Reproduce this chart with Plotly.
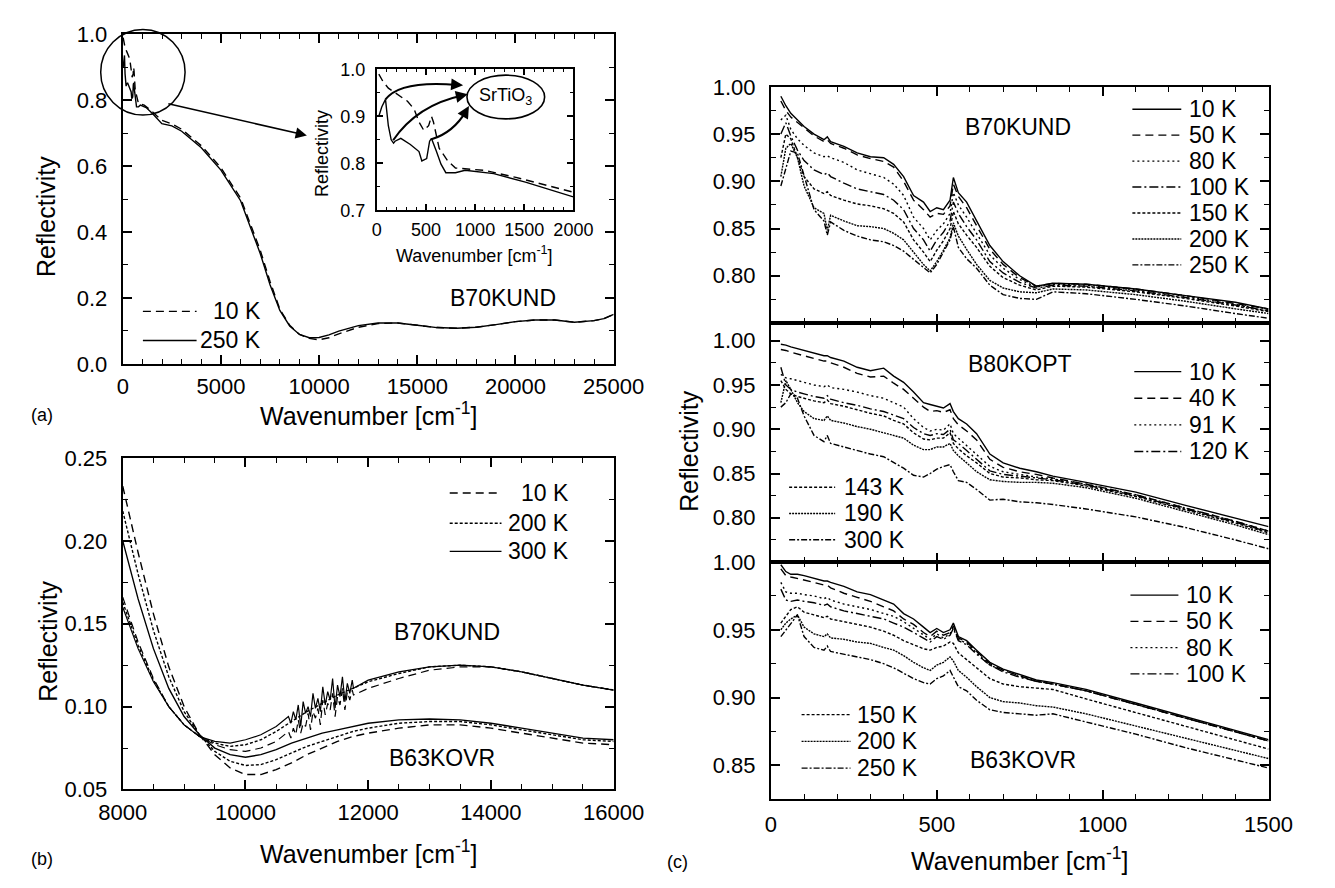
import plotly.graph_objects as go

W, H = 1335, 888
FONT = "Liberation Sans, Arial, Helvetica, sans-serif"


def px(x):
    return x / W


def py(y):
    return 1 - y / H


# ---------------- Panel (a): B70KUND, broad range (also used by the inset) ----------------
a_low_x_10K = [20, 60, 117, 215, 312, 380, 429, 478, 527, 556, 576, 634, 722, 800, 1093, 1415, 1990]
a_low_R_10K = [0.990, 0.975, 0.960, 0.946, 0.932, 0.915, 0.888, 0.870, 0.880, 0.900, 0.888, 0.832,
               0.805, 0.790, 0.785, 0.770, 0.739]
a_low_x_250K = [20, 50, 88, 117, 146, 170, 185, 244, 341, 429, 458, 507, 537, 556, 605, 653, 702,
                800, 898, 1190, 1512, 1990]
a_low_R_250K = [0.900, 0.920, 0.936, 0.880, 0.850, 0.843, 0.847, 0.853, 0.840, 0.825, 0.805, 0.810,
                0.847, 0.853, 0.826, 0.798, 0.780, 0.780, 0.785, 0.778, 0.760, 0.729]
a_high_x = [2500, 3000, 4000, 5000, 6000, 7000, 7500, 8000, 8500, 9000, 9500, 10000, 10500, 11000,
            11500, 12000, 13000, 14000, 15000, 16000, 17000, 18000, 19000, 20000, 21000, 22000,
            23000, 24000, 24500, 25000]
a_high_R_10K = [0.728, 0.712, 0.662, 0.595, 0.503, 0.345, 0.250, 0.166, 0.117, 0.089, 0.077, 0.073,
                0.079, 0.091, 0.102, 0.111, 0.122, 0.124, 0.117, 0.110, 0.108, 0.111, 0.119, 0.128,
                0.133, 0.133, 0.126, 0.131, 0.137, 0.150]
a_high_R_250K = [0.722, 0.706, 0.656, 0.588, 0.495, 0.335, 0.240, 0.162, 0.115, 0.089, 0.079, 0.080,
                 0.088, 0.099, 0.108, 0.116, 0.124, 0.124, 0.117, 0.110, 0.108, 0.111, 0.119, 0.128,
                 0.133, 0.133, 0.126, 0.131, 0.137, 0.150]

# ---------------- Panel (b): 8000-16000 cm-1 ----------------
b_x = [8000, 8250, 8500, 8750, 9000, 9250, 9500, 9750, 10000, 10250, 10500, 10750, 11000, 11250,
       11500, 11750, 12000, 12500, 13000, 13500, 14000, 14500, 15000, 15500, 16000]
b70_10K = [0.166, 0.139, 0.117, 0.100, 0.089, 0.082, 0.077, 0.074, 0.073, 0.075, 0.079, 0.085, 0.091,
           0.097, 0.102, 0.107, 0.111, 0.117, 0.122, 0.124, 0.124, 0.121, 0.117, 0.113, 0.110]
b70_200K = [0.163, 0.137, 0.116, 0.100, 0.089, 0.082, 0.078, 0.076, 0.077, 0.080, 0.085, 0.091, 0.097,
            0.102, 0.107, 0.111, 0.115, 0.120, 0.124, 0.125, 0.124, 0.121, 0.117, 0.113, 0.110]
b70_300K = [0.160, 0.135, 0.115, 0.100, 0.089, 0.082, 0.079, 0.078, 0.080, 0.083, 0.088, 0.094, 0.099,
            0.104, 0.108, 0.112, 0.116, 0.121, 0.124, 0.125, 0.124, 0.121, 0.117, 0.113, 0.110]
b63_10K = [0.233, 0.193, 0.156, 0.124, 0.100, 0.083, 0.071, 0.063, 0.059, 0.059, 0.062, 0.066, 0.071,
           0.075, 0.079, 0.082, 0.084, 0.087, 0.089, 0.089, 0.087, 0.084, 0.081, 0.078, 0.077]
b63_200K = [0.218, 0.180, 0.146, 0.118, 0.097, 0.083, 0.073, 0.067, 0.0645, 0.065, 0.068, 0.072, 0.076,
            0.079, 0.082, 0.085, 0.087, 0.090, 0.091, 0.091, 0.089, 0.086, 0.083, 0.080, 0.079]
b63_300K = [0.200, 0.165, 0.135, 0.111, 0.094, 0.083, 0.075, 0.071, 0.0695, 0.071, 0.074, 0.078, 0.081,
            0.084, 0.086, 0.088, 0.090, 0.092, 0.0925, 0.092, 0.090, 0.087, 0.084, 0.081, 0.080]
# noisy stretch of the B70KUND spectra (detector junction)
b_noise_x = [10700, 10740, 10780, 10820, 10860, 10900, 10940, 10980, 11020, 11060, 11100, 11140,
             11180, 11220, 11260, 11300, 11340, 11380, 11420, 11460, 11500, 11540, 11580, 11620,
             11660, 11700, 11740, 11760]
b70_10K_noise = [0.085, 0.081, 0.087, 0.083, 0.092, 0.084, 0.090, 0.088, 0.096, 0.086, 0.097, 0.093,
                 0.099, 0.089, 0.104, 0.095, 0.102, 0.098, 0.108, 0.094, 0.106, 0.101, 0.111, 0.098,
                 0.109, 0.104, 0.110, 0.107]
b70_300K_noise = [0.094, 0.090, 0.097, 0.092, 0.101, 0.088, 0.103, 0.096, 0.100, 0.094, 0.108, 0.099,
                  0.105, 0.097, 0.112, 0.101, 0.109, 0.104, 0.117, 0.099, 0.113, 0.106, 0.118, 0.103,
                  0.114, 0.108, 0.116, 0.111]

# ---------------- Panel (c): far infrared ----------------
c_x = [30, 45, 60, 80, 100, 130, 160, 170, 180, 220, 260, 300, 340, 370, 400, 430, 460, 480, 500, 520,
       540, 550, 565, 590, 620, 660, 700, 750, 800, 850, 950, 1100, 1250, 1400, 1500]

# B70KUND
c1_10K = [0.990, 0.980, 0.972, 0.965, 0.958, 0.950, 0.944, 0.947, 0.942, 0.937, 0.930, 0.926, 0.925,
          0.918, 0.905, 0.885, 0.878, 0.868, 0.872, 0.870, 0.880, 0.904, 0.888, 0.878, 0.858, 0.832,
          0.815, 0.800, 0.789, 0.792, 0.791, 0.786, 0.779, 0.772, 0.765]
c1_50K = [0.985, 0.975, 0.968, 0.962, 0.956, 0.948, 0.942, 0.944, 0.940, 0.935, 0.928, 0.924, 0.921,
          0.915, 0.900, 0.880, 0.870, 0.862, 0.866, 0.865, 0.874, 0.897, 0.884, 0.872, 0.853, 0.828,
          0.812, 0.798, 0.789, 0.792, 0.791, 0.786, 0.779, 0.771, 0.765]
c1_80K = [0.965, 0.970, 0.955, 0.945, 0.938, 0.930, 0.926, 0.927, 0.925, 0.920, 0.912, 0.908, 0.904,
          0.897, 0.885, 0.862, 0.850, 0.838, 0.848, 0.855, 0.866, 0.888, 0.875, 0.862, 0.845, 0.822,
          0.808, 0.796, 0.788, 0.791, 0.790, 0.785, 0.778, 0.770, 0.764]
c1_100K = [0.950, 0.962, 0.948, 0.933, 0.922, 0.912, 0.907, 0.909, 0.905, 0.898, 0.892, 0.889, 0.886,
           0.880, 0.870, 0.850, 0.838, 0.826, 0.838, 0.846, 0.858, 0.878, 0.866, 0.852, 0.838, 0.815,
           0.803, 0.793, 0.787, 0.790, 0.789, 0.784, 0.777, 0.769, 0.763]
c1_150K = [0.925, 0.950, 0.945, 0.925, 0.905, 0.892, 0.887, 0.889, 0.885, 0.880, 0.876, 0.874, 0.871,
           0.866, 0.857, 0.838, 0.825, 0.815, 0.827, 0.837, 0.850, 0.868, 0.855, 0.843, 0.830, 0.810,
           0.798, 0.790, 0.785, 0.789, 0.788, 0.783, 0.776, 0.768, 0.762]
c1_200K = [0.905, 0.935, 0.940, 0.925, 0.895, 0.872, 0.866, 0.848, 0.864, 0.858, 0.853, 0.852, 0.850,
           0.845, 0.838, 0.825, 0.812, 0.805, 0.815, 0.827, 0.840, 0.856, 0.842, 0.828, 0.812, 0.795,
           0.787, 0.783, 0.782, 0.786, 0.785, 0.780, 0.773, 0.765, 0.760]
c1_250K = [0.895, 0.915, 0.932, 0.930, 0.905, 0.870, 0.858, 0.843, 0.857, 0.848, 0.842, 0.838, 0.836,
           0.832, 0.826, 0.817, 0.808, 0.803, 0.812, 0.825, 0.838, 0.852, 0.830, 0.818, 0.808, 0.790,
           0.780, 0.776, 0.775, 0.783, 0.781, 0.775, 0.768, 0.760, 0.755]

# B80KOPT
c2_10K = [0.996, 0.995, 0.993, 0.991, 0.989, 0.986, 0.983, 0.983, 0.981, 0.977, 0.970, 0.966, 0.969,
          0.960, 0.953, 0.942, 0.930, 0.928, 0.926, 0.924, 0.929, 0.920, 0.912, 0.906, 0.895, 0.872,
          0.862, 0.856, 0.852, 0.847, 0.840, 0.829, 0.814, 0.800, 0.790]
c2_40K = [0.990, 0.989, 0.987, 0.985, 0.983, 0.980, 0.977, 0.977, 0.975, 0.970, 0.963, 0.959, 0.960,
          0.952, 0.945, 0.935, 0.925, 0.920, 0.921, 0.919, 0.922, 0.912, 0.905, 0.898, 0.888, 0.866,
          0.857, 0.852, 0.849, 0.845, 0.838, 0.826, 0.811, 0.796, 0.785]
c2_91K = [0.962, 0.958, 0.957, 0.955, 0.953, 0.950, 0.948, 0.950, 0.947, 0.945, 0.942, 0.938, 0.935,
          0.930, 0.925, 0.912, 0.902, 0.898, 0.900, 0.899, 0.906, 0.895, 0.890, 0.882, 0.872, 0.858,
          0.852, 0.849, 0.846, 0.844, 0.838, 0.826, 0.811, 0.796, 0.785]
c2_120K = [0.970, 0.950, 0.945, 0.942, 0.940, 0.937, 0.935, 0.938, 0.934, 0.930, 0.927, 0.923, 0.920,
           0.916, 0.912, 0.902, 0.895, 0.893, 0.895, 0.894, 0.900, 0.888, 0.884, 0.876, 0.866, 0.853,
           0.849, 0.847, 0.845, 0.843, 0.837, 0.825, 0.810, 0.795, 0.784]
c2_143K = [0.955, 0.945, 0.940, 0.937, 0.935, 0.932, 0.930, 0.933, 0.929, 0.926, 0.922, 0.918, 0.915,
           0.910, 0.906, 0.896, 0.889, 0.888, 0.890, 0.890, 0.896, 0.884, 0.878, 0.870, 0.862, 0.850,
           0.846, 0.845, 0.843, 0.842, 0.836, 0.824, 0.809, 0.794, 0.783]
c2_190K = [0.930, 0.955, 0.945, 0.930, 0.920, 0.912, 0.910, 0.915, 0.910, 0.907, 0.903, 0.900, 0.896,
           0.893, 0.890, 0.882, 0.877, 0.877, 0.880, 0.880, 0.884, 0.876, 0.870, 0.862, 0.852, 0.843,
           0.841, 0.840, 0.840, 0.839, 0.834, 0.822, 0.807, 0.792, 0.781]
c2_300K = [0.925, 0.930, 0.940, 0.935, 0.915, 0.893, 0.886, 0.893, 0.884, 0.880, 0.876, 0.872, 0.869,
           0.862, 0.856, 0.848, 0.846, 0.850, 0.855, 0.858, 0.860, 0.852, 0.842, 0.840, 0.832, 0.820,
           0.821, 0.818, 0.817, 0.815, 0.810, 0.801, 0.789, 0.775, 0.765]

# B63KOVR
c3_10K = [0.998, 0.993, 0.991, 0.991, 0.990, 0.988, 0.986, 0.986, 0.985, 0.982, 0.978, 0.976, 0.972,
          0.969, 0.962, 0.958, 0.952, 0.948, 0.951, 0.948, 0.950, 0.955, 0.945, 0.942, 0.935, 0.926,
          0.921, 0.917, 0.913, 0.911, 0.906, 0.896, 0.886, 0.876, 0.869]
c3_50K = [0.995, 0.990, 0.989, 0.988, 0.987, 0.985, 0.983, 0.983, 0.981, 0.977, 0.974, 0.971, 0.967,
          0.964, 0.958, 0.954, 0.948, 0.945, 0.949, 0.946, 0.948, 0.953, 0.944, 0.941, 0.934, 0.925,
          0.920, 0.916, 0.912, 0.910, 0.905, 0.895, 0.885, 0.875, 0.868]
c3_80K = [0.985, 0.978, 0.977, 0.977, 0.976, 0.975, 0.973, 0.974, 0.972, 0.969, 0.967, 0.965, 0.962,
          0.960, 0.956, 0.951, 0.946, 0.943, 0.947, 0.944, 0.947, 0.952, 0.943, 0.940, 0.933, 0.924,
          0.920, 0.916, 0.912, 0.910, 0.905, 0.895, 0.885, 0.875, 0.868]
c3_100K = [0.980, 0.972, 0.971, 0.972, 0.971, 0.970, 0.968, 0.969, 0.967, 0.964, 0.962, 0.960, 0.958,
           0.955, 0.952, 0.948, 0.944, 0.941, 0.945, 0.943, 0.946, 0.951, 0.942, 0.939, 0.932, 0.924,
           0.919, 0.915, 0.912, 0.910, 0.905, 0.895, 0.885, 0.875, 0.868]
c3_150K = [0.955, 0.960, 0.965, 0.967, 0.963, 0.961, 0.959, 0.960, 0.958, 0.956, 0.954, 0.952, 0.949,
           0.946, 0.942, 0.939, 0.936, 0.935, 0.937, 0.938, 0.941, 0.940, 0.933, 0.928, 0.922, 0.914,
           0.910, 0.908, 0.907, 0.906, 0.899, 0.889, 0.879, 0.869, 0.862]
c3_200K = [0.950, 0.955, 0.958, 0.961, 0.952, 0.947, 0.945, 0.947, 0.944, 0.943, 0.941, 0.940, 0.937,
           0.935, 0.931, 0.926, 0.922, 0.920, 0.924, 0.926, 0.930, 0.927, 0.920, 0.915, 0.908, 0.900,
           0.897, 0.896, 0.894, 0.893, 0.888, 0.879, 0.870, 0.861, 0.855]
c3_250K = [0.945, 0.950, 0.955, 0.961, 0.945, 0.937, 0.935, 0.938, 0.934, 0.932, 0.930, 0.928, 0.925,
           0.922, 0.918, 0.914, 0.911, 0.910, 0.914, 0.916, 0.920, 0.915, 0.908, 0.905, 0.898, 0.891,
           0.889, 0.888, 0.887, 0.888, 0.882, 0.873, 0.863, 0.854, 0.848]

# tick labels
a_xticks = [0, 5000, 10000, 15000, 20000, 25000]
a_xlabels = ["0", "5000", "10000", "15000", "20000", "25000"]
a_yticks = [0.0, 0.2, 0.4, 0.6, 0.8, 1.0]
a_ylabels = ["0.0", "0.2", "0.4", "0.6", "0.8", "1.0"]
ins_xticks = [0, 500, 1000, 1500, 2000]
ins_xlabels = ["0", "500", "1000", "1500", "2000"]
ins_yticks = [0.7, 0.8, 0.9, 1.0]
ins_ylabels = ["0.7", "0.8", "0.9", "1.0"]
b_xticks = [8000, 10000, 12000, 14000, 16000]
b_xlabels = ["8000", "10000", "12000", "14000", "16000"]
b_yticks = [0.05, 0.10, 0.15, 0.20, 0.25]
b_ylabels = ["0.05", "0.10", "0.15", "0.20", "0.25"]
c_xticks = [0, 500, 1000, 1500]
c_xlabels = ["0", "500", "1000", "1500"]
c1_yticks = [0.80, 0.85, 0.90, 0.95, 1.00]
c2_yticks = [0.80, 0.85, 0.90, 0.95, 1.00]
c3_yticks = [0.85, 0.90, 0.95, 1.00]

# ---------------- styles ----------------
DASH = {
    "solid": "solid",
    "dash": "8px,5px",
    "dot": "2px,3px",
    "dashdot": "9px,3px,2px,3px",
    "sdash": "3px,2px",
    "fdot": "2px,1px",
    "dashdotdot": "6px,2px,2px,2px",
}
LW = 1.4


def merge(xc, yc, xn, yn):
    lo, hi = min(xn), max(xn)
    pts = [(x, y) for x, y in zip(xc, yc) if x < lo or x > hi] + list(zip(xn, yn))
    pts.sort()
    return [p[0] for p in pts], [p[1] for p in pts]


fig = go.Figure()


def add(x, y, dash, xa, ya, width=LW):
    fig.add_trace(go.Scatter(x=x, y=y, mode="lines", line=dict(color="black", width=width, dash=DASH[dash]),
                             xaxis=xa, yaxis=ya, showlegend=False, hoverinfo="skip"))


# panel (a) main
add(a_low_x_250K + a_high_x, a_low_R_250K + a_high_R_250K, "solid", "x", "y")
add(a_low_x_10K + a_high_x, a_low_R_10K + a_high_R_10K, "dash", "x", "y")
# inset
add(a_low_x_250K + a_high_x, a_low_R_250K + a_high_R_250K, "solid", "x2", "y2")
add(a_low_x_10K + a_high_x, a_low_R_10K + a_high_R_10K, "dash", "x2", "y2")

# panel (b)
bx10, by10 = merge(b_x, b70_10K, b_noise_x, b70_10K_noise)
bx300, by300 = merge(b_x, b70_300K, b_noise_x, b70_300K_noise)
add(bx10, by10, "dash", "x3", "y3", width=1.2)
add(b_x, b70_200K, "sdash", "x3", "y3")
add(bx300, by300, "solid", "x3", "y3", width=1.2)
add(b_x, b63_10K, "dash", "x3", "y3")
add(b_x, b63_200K, "sdash", "x3", "y3")
add(b_x, b63_300K, "solid", "x3", "y3")

# panel (c)
c1 = [(c1_10K, "solid"), (c1_50K, "dash"), (c1_80K, "dot"), (c1_100K, "dashdot"),
      (c1_150K, "sdash"), (c1_200K, "fdot"), (c1_250K, "dashdotdot")]
c2 = [(c2_10K, "solid"), (c2_40K, "dash"), (c2_91K, "dot"), (c2_120K, "dashdot"),
      (c2_143K, "sdash"), (c2_190K, "fdot"), (c2_300K, "dashdotdot")]
c3 = [(c3_10K, "solid"), (c3_50K, "dash"), (c3_80K, "dot"), (c3_100K, "dashdot"),
      (c3_150K, "sdash"), (c3_200K, "fdot"), (c3_250K, "dashdotdot")]
for ys, d in c1:
    add(c_x, ys, d, "x4", "y4")
for ys, d in c2:
    add(c_x, ys, d, "x5", "y5")
for ys, d in c3:
    add(c_x, ys, d, "x6", "y6")


# ---------------- axes ----------------
def ax(domain, rng, tickvals, ticktext, minor_dtick, anchor, show_labels=True, size=22, ticklen=9,
       mticklen=5, standoff=6):
    return dict(domain=domain, range=rng, anchor=anchor, showline=True, linecolor="black", linewidth=2,
                mirror="ticks", ticks="inside", ticklen=ticklen, tickwidth=1.5, tickcolor="black",
                showgrid=False, zeroline=False, tickmode="array", tickvals=tickvals, ticktext=ticktext,
                showticklabels=show_labels, ticklabelstandoff=standoff,
                tickfont=dict(size=size, color="black", family=FONT),
                minor=dict(ticks="inside", ticklen=mticklen, tickwidth=1.2, tickcolor="black",
                           tickmode="linear", tick0=0, dtick=minor_dtick, showgrid=False))


def fmt2(v):
    return ["{:.2f}".format(t) for t in v]


xa_main = [px(103), px(615)]
xc_dom = [px(779), px(1298)]
layout_axes = dict(
    xaxis=ax(xa_main, [0, 25000], a_xticks, a_xlabels, 1000, "y", standoff=2),
    yaxis=ax([py(362), py(23)], [0, 1], a_yticks, a_ylabels, 0.1, "x", standoff=9),
    xaxis2=ax([px(368), px(573)], [0, 2000], ins_xticks, ins_xlabels, 100, "y2", size=18, ticklen=6,
              mticklen=3, standoff=2),
    yaxis2=ax([py(204), py(59)], [0.7, 1.0], ins_yticks, ins_ylabels, 0.05, "x2", size=18, ticklen=6,
              mticklen=3, standoff=6),
    xaxis3=ax(xa_main, [8000, 16000], b_xticks, b_xlabels, 500, "y3", standoff=2),
    yaxis3=ax([py(800), py(459)], [0.05, 0.25], b_yticks, b_ylabels, 0.025, "x3", standoff=9),
    xaxis4=ax(xc_dom, [0, 1500], c_xticks, c_xlabels, 100, "y4", show_labels=False),
    yaxis4=ax([py(320), py(77)], [0.75, 1.0], c1_yticks, fmt2(c1_yticks), 0.025, "x4", standoff=9),
    xaxis5=ax(xc_dom, [0, 1500], c_xticks, c_xlabels, 100, "y5", show_labels=False),
    yaxis5=ax([py(566), py(320)], [0.75, 1.02], c2_yticks, fmt2(c2_yticks), 0.025, "x5", standoff=9),
    xaxis6=ax(xc_dom, [0, 1500], c_xticks, c_xlabels, 100, "y6", standoff=4),
    yaxis6=ax([py(810), py(566)], [0.825, 1.0], c3_yticks, fmt2(c3_yticks), 0.025, "x6", standoff=9),
)

annotations = []
shapes = []


def text(x, y, s, size=23, anchor="center", angle=0):
    annotations.append(dict(x=px(x), y=py(y), xref="paper", yref="paper", text=s, showarrow=False,
                            xanchor=anchor, yanchor="middle", textangle=angle,
                            font=dict(size=size, color="black", family=FONT)))


def legend_row(x0, x1, y, dash, label, tx, anchor, size=23):
    shapes.append(dict(type="line", xref="paper", yref="paper", x0=px(x0), x1=px(x1), y0=py(y), y1=py(y),
                       line=dict(color="black", width=LW, dash=DASH[dash])))
    text(tx, y, label, size=size, anchor=anchor)


WN = "Wavenumber [cm<sup>-1</sup>]"
# axis titles
text(359, 414, WN, size=25)
text(23, 211, "Reflectivity", size=25, angle=-90)
text(359, 864, WN, size=25)
text(25, 647, "Reflectivity", size=25, angle=-90)
text(1038, 872, WN, size=25)
text(694, 452, "Reflectivity", size=25, angle=-90)
text(470, 250, WN, size=18)
text(311, 146, "Reflectivity", size=18, angle=-90)
# panel tags
text(19, 415, "(a)", size=18)
text(19, 872, "(b)", size=18)
text(682, 875, "(c)", size=18)
# sample names
text(500, 294, "B70KUND")
text(441, 638, "B70KUND")
text(436, 768, "B63KOVR")
text(1037, 118, "B70KUND")
text(1039, 362, "B80KOPT")
text(1042, 770, "B63KOVR")

# legends
legend_row(124, 180, 308, "dash", "10 K", 249, "right")
legend_row(124, 180, 338, "solid", "250 K", 249, "right")

for yy, d, lab in [(495, "dash", "10 K"), (526, "sdash", "200 K"), (555, "solid", "300 K")]:
    legend_row(444, 498, yy, d, lab, 570, "right")

c1_labels = ["10 K", "50 K", "80 K", "100 K", "150 K", "200 K", "250 K"]
for i, (lab, (_, d)) in enumerate(zip(c1_labels, c1)):
    legend_row(1156, 1207, 100 + i * 26.7, d, lab, 1213, "left")

c2_labels = ["10 K", "40 K", "91 K", "120 K", "143 K", "190 K", "300 K"]
for i in range(4):
    legend_row(1158, 1207, 370 + i * 27.4, c2[i][1], c2_labels[i], 1213, "left")
for i in range(3):
    legend_row(798, 846, 489 + i * 27, c2[4 + i][1], c2_labels[4 + i], 853, "left")

c3_labels = ["10 K", "50 K", "80 K", "100 K", "150 K", "200 K", "250 K"]
for i in range(4):
    legend_row(1154, 1204, 600 + i * 27, c3[i][1], c3_labels[i], 1210, "left")
for i in range(3):
    legend_row(811, 862, 723 + i * 27.5, c3[4 + i][1], c3_labels[4 + i], 867, "left")

# magnifier circle and arrow in panel (a)
shapes.append(dict(type="circle", xref="paper", yref="paper", x0=px(80), x1=px(168), y0=py(106), y1=py(18),
                   line=dict(color="black", width=1.5)))
annotations.append(dict(x=px(295), y=py(127), xref="paper", yref="paper", ax=155 - 295, ay=95 - 127,
                        text="", showarrow=True, arrowhead=2, arrowsize=1.4, arrowwidth=1.6,
                        arrowcolor="black"))

# SrTiO3 ellipse with curved arrows in the inset
shapes.append(dict(type="circle", xref="paper", yref="paper", x0=px(462), x1=px(543), y0=py(110), y1=py(65),
                   line=dict(color="black", width=1.6)))
text(502, 87, "SrTiO<sub>3</sub>", size=18)

curves = [((377, 90), (392, 70), (452, 75)),
          ((385, 132), (410, 96), (457, 86)),
          ((425, 131), (448, 124), (461, 102))]
for (sx, sy), (cx, cy), (ex, ey) in curves:
    path = "M {:.5f},{:.5f} Q {:.5f},{:.5f} {:.5f},{:.5f}".format(px(sx), py(sy), px(cx), py(cy), px(ex), py(ey))
    shapes.append(dict(type="path", xref="paper", yref="paper", path=path, line=dict(color="black", width=2)))
    dx, dy = ex - cx, ey - cy
    n = (dx * dx + dy * dy) ** 0.5
    annotations.append(dict(x=px(ex + dx / n * 6), y=py(ey + dy / n * 6), xref="paper", yref="paper",
                            ax=-dx / n * 12, ay=-dy / n * 12, text="", showarrow=True, arrowhead=2,
                            arrowsize=1.2, arrowwidth=2, arrowcolor="black"))

fig.update_layout(
    width=W, height=H, margin=dict(l=0, r=0, t=0, b=0), autosize=False,
    paper_bgcolor="white", plot_bgcolor="white", showlegend=False,
    font=dict(family=FONT, color="black"),
    annotations=annotations, shapes=shapes, **layout_axes)

fig.write_html("out.html")
